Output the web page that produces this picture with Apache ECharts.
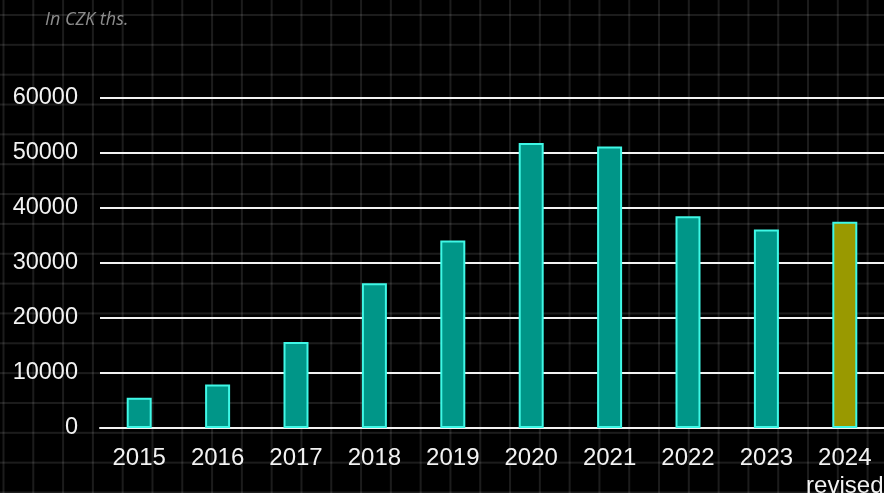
<!DOCTYPE html>
<html>
<head>
<meta charset="utf-8">
<script src="https://cdn.jsdelivr.net/npm/echarts@6/dist/echarts.min.js"></script>
<style>
  html, body { margin: 0; padding: 0; background: #000; }
  #chart {
    width: 884px; height: 493px;
    background-color: #000;
    background-image:
      linear-gradient(to right, rgba(255,255,255,0.11) 2px, transparent 2px),
      linear-gradient(to bottom, rgba(255,255,255,0.11) 2px, transparent 2px);
    background-size: 29.8px 29.85px;
    background-position: 2.5px 14px;
  }
</style>
</head>
<body>
<div id="chart"></div>
<script>
const categories = ['2015', '2016', '2017', '2018', '2019', '2020', '2021', '2022', '2023', '2024\nrevised'];
const values = [5500, 7900, 15650, 26300, 34100, 51800, 51200, 38500, 36100, 37500];
const highlightIndex = 9;
const yTicks = { min: 0, max: 60000, interval: 10000 };

const chart = echarts.init(document.getElementById('chart'), null, { renderer: 'canvas' });
chart.setOption({
  backgroundColor: 'transparent',
  animation: false,
  title: {
    text: 'In CZK ths.',
    left: 40, top: 6,
    textStyle: { color: '#8c8c8c', fontFamily: 'Open Sans', fontStyle: 'italic', fontWeight: 'normal', fontSize: 18 }
  },
  grid: { left: 100, right: 0, top: 98, bottom: 65, containLabel: false, outerBoundsMode: 'none' },
  xAxis: {
    type: 'category',
    data: categories,
    axisLine: { show: true, lineStyle: { color: '#f2f2f2', width: 2 } },
    axisTick: { show: false },
    axisLabel: { color: '#f2f2f2', fontFamily: 'Liberation Sans', fontSize: 24, margin: 16, lineHeight: 28, interval: 0 }
  },
  yAxis: {
    type: 'value',
    min: yTicks.min, max: yTicks.max, interval: yTicks.interval,
    axisLine: { show: false },
    axisTick: { show: false },
    axisLabel: { color: '#f2f2f2', fontFamily: 'Liberation Sans', fontSize: 23.5, margin: 22, formatter: v => String(v) },
    splitLine: { show: true, lineStyle: { color: '#f2f2f2', width: 2 } }
  },
  series: [{
    type: 'bar',
    barWidth: 25,
    data: values.map((v, i) => ({
      value: v,
      itemStyle: { color: i === highlightIndex ? '#999900' : '#009688' }
    })),
    itemStyle: { borderColor: '#3ff8e6', borderWidth: 2 }
  }]
});
</script>
</body>
</html>
